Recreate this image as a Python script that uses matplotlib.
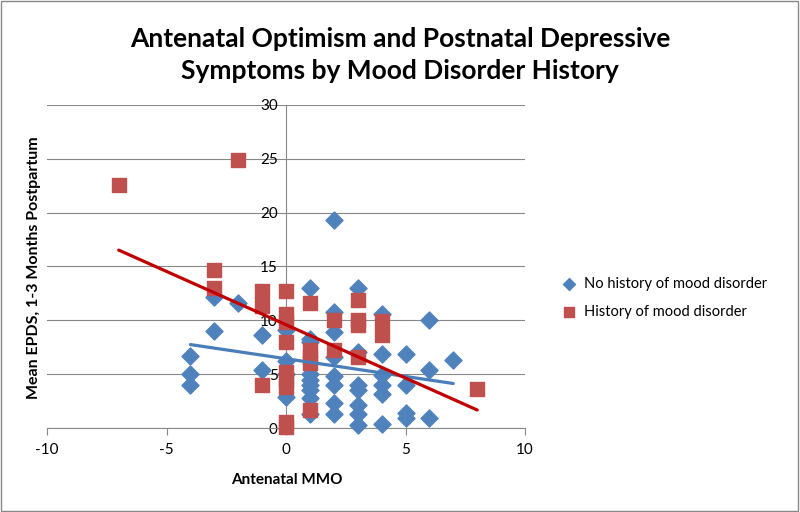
import numpy as np
import matplotlib.pyplot as plt
from matplotlib.patches import Rectangle

plt.rcParams['font.family'] = ['Lato', 'DejaVu Sans']
plt.rcParams['axes.unicode_minus'] = False

# No history of mood disorder
no_hist_x = [-4, -4, -4, -3, -3, -2, -1, -1,
             0, 0, 0, 0,
             1, 1, 1, 1, 1, 1, 1, 1, 1,
             2, 2, 2, 2, 2, 2, 2, 2,
             3, 3, 3, 3, 3, 3, 3,
             4, 4, 4, 4, 4, 4,
             5, 5, 5, 5,
             6, 6, 6,
             7]
no_hist_y = [6.7, 5.0, 4.0, 12.2, 9.0, 11.6, 8.6, 5.4,
             9.1, 6.2, 5.0, 2.9,
             13.0, 8.3, 8.0, 5.0, 4.5, 4.0, 3.5, 2.8, 1.3,
             19.3, 10.8, 8.9, 6.6, 4.8, 4.0, 2.3, 1.3,
             13.0, 7.1, 4.0, 3.5, 2.1, 1.3, 0.3,
             10.6, 6.9, 4.9, 4.0, 3.2, 0.4,
             6.9, 4.0, 1.4, 0.9,
             10.0, 5.4, 0.9,
             6.3]

# History of mood disorder
hist_x = [-7, -3, -3, -2, -1, -1, -1,
          0, 0, 0, 0, 0, 0, 0, 0, 0,
          1, 1, 1, 1, 1,
          2, 2,
          3, 3, 3, 3,
          4, 4,
          8]
hist_y = [22.6, 14.7, 13.0, 24.9, 12.7, 11.3, 4.0,
          12.7, 10.6, 9.8, 8.0, 5.2, 4.5, 3.8, 0.6, 0.1,
          11.6, 7.2, 6.6, 6.0, 1.7,
          10.0, 7.2,
          11.9, 10.0, 9.6, 6.6,
          9.9, 8.6,
          3.6]

blue = '#4F81BD'
red = '#C0504D'

fig = plt.figure(figsize=(8, 5.12), dpi=100)
ax = fig.add_axes([0.05875, 0.164, 0.5975, 0.631])

ax.scatter(no_hist_x, no_hist_y, marker='D', s=75, color=blue, zorder=3,
           clip_on=False, label='No history of mood disorder')
ax.scatter(hist_x, hist_y, marker='s', s=95, color=red, zorder=4,
           clip_on=False, label='History of mood disorder')

# linear trend lines
for xs, ys, c in [(no_hist_x, no_hist_y, '#4A7EBB'), (hist_x, hist_y, '#C00000')]:
    k, b = np.polyfit(xs, ys, 1)
    xx = np.array([min(xs), max(xs)])
    ax.plot(xx, k * xx + b, color=c, lw=2.3, zorder=5, solid_capstyle='round')

ax.set_xlim(-10, 10)
ax.set_ylim(0, 30)
ax.set_xticks([-10, -5, 0, 5, 10])
ax.set_yticks([0, 5, 10, 15, 20, 25, 30])
ax.grid(axis='y', color='#888888', lw=0.8)
ax.set_axisbelow(True)

ax.spines['left'].set_position(('data', 0))
ax.spines['bottom'].set_position(('data', 0))
ax.spines['right'].set_visible(False)
ax.spines['top'].set_visible(False)
for s in ['left', 'bottom']:
    ax.spines[s].set_color('#888888')
    ax.spines[s].set_linewidth(0.8)
ax.tick_params(axis='x', colors='#888888', direction='out', length=5, labelsize=11, labelcolor='black', pad=6)
ax.tick_params(axis='y', colors='#888888', direction='out', length=0, labelsize=11, labelcolor='black', pad=6)

fig.text(0.358, 0.062, 'Antenatal MMO', ha='center', va='center', fontsize=11, fontweight='bold')
fig.text(0.042, 0.478, 'Mean EPDS, 1-3 Months Postpartum', ha='center', va='center',
         rotation=90, fontsize=11.5, fontweight='bold')

fig.text(0.5, 0.893, 'Antenatal Optimism and Postnatal Depressive\nSymptoms by Mood Disorder History',
         ha='center', va='center', fontsize=19, fontweight='bold', linespacing=1.4)

fig.legend(loc='center left', bbox_to_anchor=(0.677, 0.418), frameon=False, fontsize=10.5,
           handletextpad=0.0, labelspacing=0.95, scatterpoints=1, markerscale=0.7)

fig.add_artist(Rectangle((0.001, 0.002), 0.997, 0.996, transform=fig.transFigure,
                         fill=False, edgecolor='#888888', lw=1))

fig.savefig('out.png', dpi=100)
